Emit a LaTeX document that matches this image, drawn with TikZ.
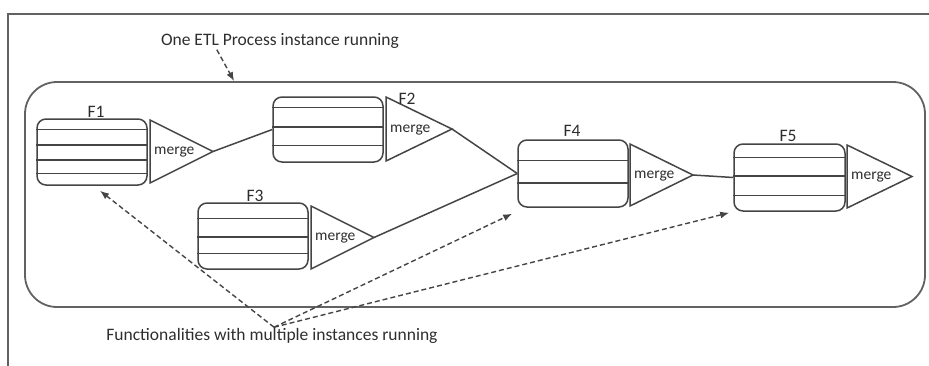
\documentclass[tikz,border=0pt]{standalone}
\usepackage{fontspec}
\setmainfont{Carlito}
\usetikzlibrary{arrows.meta,calc}
\definecolor{ink}{HTML}{454545}
\definecolor{framec}{HTML}{626262}
\definecolor{txt}{HTML}{2E2E2E}

% a merge triangle: name, base x, top y, bottom y, tip x
\newcommand{\mergeunit}[5]{%
  \coordinate (#1) at (#5,{(#3+#4)/2});
  \draw[mtri] (#2,#3) -- (#1) -- (#2,#4) -- cycle;
  \node[lbl,anchor=west,font=\fontsize{15.5}{18}\selectfont] (#1l) at ({#2+4},{(#3+#4)/2+1}) {merge};
}
% horizontal rows inside a function box
\newcommand{\boxrows}[2]{%
  \foreach \f in {#2}
    \draw[flow] ($(#1.north west)!\f!(#1.south west)$) -- ($(#1.north east)!\f!(#1.south east)$);
}

\begin{document}
\begin{tikzpicture}[x=1pt,y=-1pt,
  every node/.append style={font=\fontsize{17.5}{20}\selectfont, text=txt},
  fbox/.style={draw=ink, line width=1.5pt, rounded corners=9pt, minimum width=110pt, inner sep=0},
  mtri/.style={draw=ink, line width=1.5pt, line join=miter},
  flow/.style={draw=ink, line width=1.5pt},
  note/.style={draw=ink, line width=1.4pt, dash pattern=on 5pt off 3pt, -{Latex[length=9pt,width=7pt]}},
  lbl/.style={inner sep=0},
]
\useasboundingbox (0,0) rectangle (929,365);

% outer frame
\draw[draw=framec, line width=2.2pt] (8,366) -- (8,14) -- (930,14);

% process container
\node[draw=framec, line width=1.8pt, rounded corners=32pt, minimum width=900pt,
      minimum height=225pt, inner sep=0] (proc) at (475,194.5) {};

% function boxes
\node[fbox, minimum height=66pt] (b1) at (92,152) {};
\node[fbox, minimum height=65pt] (b2) at (328,129.5) {};
\node[fbox, minimum height=66pt] (b3) at (253,236) {};
\node[fbox, minimum height=67pt] (b4) at (573,173.5) {};
\node[fbox, minimum height=67pt, minimum width=111pt] (b5) at (789.5,177.5) {};

\boxrows{b1}{0.167,0.394,0.621,0.818}
\boxrows{b2}{0.169,0.46,0.74}
\boxrows{b3}{0.24,0.515,0.76}
\boxrows{b4}{0.31,0.64}
\boxrows{b5}{0.21,0.48,0.76}

% merge stages
\mergeunit{t1}{150}{120}{183}{213}
\mergeunit{t2}{386}{97}{161}{452}
\mergeunit{t3}{311}{206}{269}{374}
\mergeunit{t4}{630}{144}{206}{693}
\mergeunit{t5}{847}{145}{208}{912}

% function labels
\node[lbl] (f1) at (96,112) {F1};
\node[lbl] (f2) at (407,99) {F2};
\node[lbl] (f3) at (255,196) {F3};
\node[lbl] (f4) at (572,131) {F4};
\node[lbl] (f5) at (788,136) {F5};

% data flow
\draw[flow] (t1) -- (b2.west);
\draw[flow] (t2) -- (b4.west);
\draw[flow] (t3) -- (b4.west);
\draw[flow] (t4) -- (b5.west);

% annotations
\node[lbl] (etl) at (280,41) {One ETL Process instance running};
\node[lbl] (fn) at (272,336) {Functionalities with multiple instances running};

\coordinate (etlsrc) at ($(etl.south west)+(56,1)$);
\draw[note] (etlsrc) -- ($(proc.north west)+(210,0)$);

\coordinate (src) at ($(fn.north)+(2,-1)$);
\draw[note] (src) -- ($(b1.south)+(8,5)$);
\draw[note] (src) -- ($(b4.south west)+(-5,6)$);
\draw[note] (src) -- ($(b5.south west)+(-4,1)$);
\end{tikzpicture}
\end{document}
